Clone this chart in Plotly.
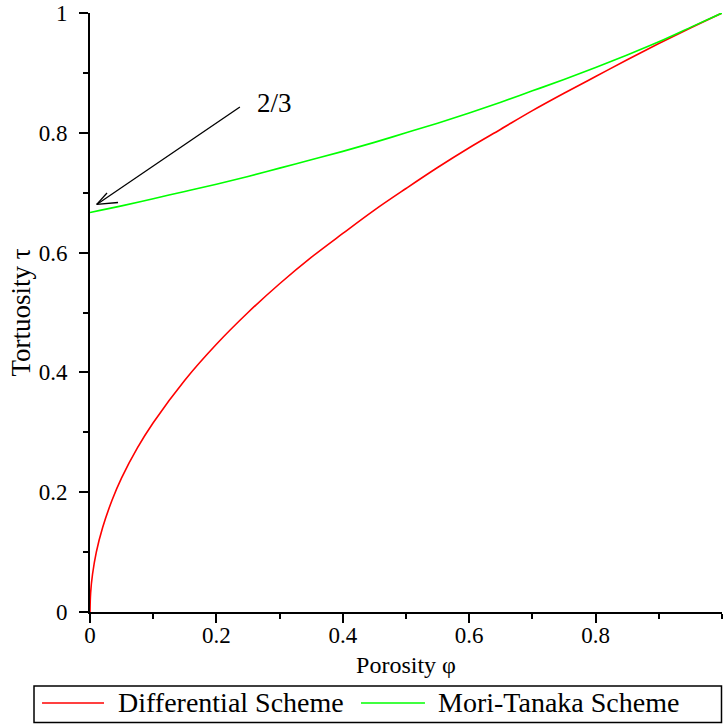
import plotly.graph_objects as go

# Porosity samples and tortuosity values
phi_diff = [0, 0.001, 0.004, 0.01, 0.02, 0.035, 0.05, 0.075, 0.1, 0.15, 0.2, 0.25, 0.3,
            0.35, 0.4, 0.45, 0.5, 0.55, 0.6, 0.65, 0.7, 0.75, 0.8, 0.85, 0.9, 0.95, 1.0]
tau_diff = [0, 0.032, 0.063, 0.1, 0.141, 0.187, 0.224, 0.274, 0.316, 0.387, 0.447, 0.5, 0.548,
            0.592, 0.632, 0.671, 0.707, 0.742, 0.775, 0.806, 0.837, 0.866, 0.894, 0.922, 0.949, 0.975, 1.0]

phi_mt = [0, 0.05, 0.1, 0.15, 0.2, 0.25, 0.3, 0.35, 0.4, 0.45, 0.5, 0.55, 0.6, 0.65,
          0.7, 0.75, 0.8, 0.85, 0.9, 0.95, 1.0]
tau_mt = [0.667, 0.678, 0.690, 0.702, 0.714, 0.727, 0.741, 0.755, 0.769, 0.784, 0.8, 0.816,
          0.833, 0.851, 0.870, 0.889, 0.909, 0.930, 0.952, 0.976, 1.0]

series_names = ["Differential Scheme", "Mori-Tanaka Scheme"]
series_colors = ["#ff0000", "#00ff00"]
x_ticks = [0, 0.2, 0.4, 0.6, 0.8]
x_tick_labels = ["0", "0.2", "0.4", "0.6", "0.8"]
y_ticks = [0, 0.2, 0.4, 0.6, 0.8, 1]
y_tick_labels = ["0", "0.2", "0.4", "0.6", "0.8", "1"]

annot_text = "2/3"
arrow_tail = (0.2372, 0.8431)
arrow_tip = (0.0106, 0.6804)
barb_up = (0.0269, 0.6995)
barb_low = (0.0443, 0.6836)
text_pos = (0.261, 0.849)

SERIF = "Liberation Serif"

fig = go.Figure()
fig.add_trace(go.Scatter(x=phi_diff, y=tau_diff, mode="lines", name=series_names[0],
                         line=dict(color=series_colors[0], width=1.6, shape="spline")))
fig.add_trace(go.Scatter(x=phi_mt, y=tau_mt, mode="lines", name=series_names[1],
                         line=dict(color=series_colors[1], width=1.6, shape="spline")))

axis_common = dict(
    showline=True, linecolor="black", linewidth=2, showgrid=False, zeroline=False,
    ticks="outside", ticklen=9, tickwidth=1.5, tickcolor="black",
    tickfont=dict(family=SERIF, size=23, color="black"),
    minor=dict(ticks="outside", ticklen=5, tickwidth=1.5, tickcolor="black", dtick=0.1),
)

fig.update_xaxes(range=[0, 1], tickmode="array", tickvals=x_ticks, ticktext=x_tick_labels,
                 ticklabelstandoff=-8,
                 title=dict(text="Porosity φ", font=dict(family=SERIF, size=24, color="black"),
                            standoff=10),
                 **axis_common)
fig.update_yaxes(range=[0, 1], tickmode="array", tickvals=y_ticks, ticktext=y_tick_labels,
                 ticklabelstandoff=7,
                 title=dict(text="Tortuosity τ", font=dict(family=SERIF, size=27, color="black"),
                            standoff=0),
                 **axis_common)

# arrow shaft
fig.add_shape(type="line", xref="x", yref="y", x0=arrow_tail[0], y0=arrow_tail[1],
              x1=arrow_tip[0], y1=arrow_tip[1], line=dict(color="black", width=1.3))
# open arrow head barbs
fig.add_shape(type="line", xref="x", yref="y", x0=arrow_tip[0], y0=arrow_tip[1],
              x1=barb_up[0], y1=barb_up[1], line=dict(color="black", width=1.3))
fig.add_shape(type="line", xref="x", yref="y", x0=arrow_tip[0], y0=arrow_tip[1],
              x1=barb_low[0], y1=barb_low[1], line=dict(color="black", width=1.3))
fig.add_annotation(x=text_pos[0], y=text_pos[1], xref="x", yref="y", text=annot_text,
                   showarrow=False, xanchor="left", yanchor="middle",
                   font=dict(family=SERIF, size=27, color="black"))

# legend box drawn below the plot (paper coordinates)
leg_box = dict(x0=-0.0886, x1=0.9992, y0=-0.1235, y1=-0.1845)
leg_y = -0.1519
leg_line_x = [(-0.0759, 0.0222), (0.4288, 0.530)]
leg_text_x = [0.0411, 0.5475]
fig.add_shape(type="rect", xref="paper", yref="paper", **leg_box,
              line=dict(color="black", width=1.5), fillcolor="white", layer="below")
for name, color, (lx0, lx1), tx in zip(series_names, series_colors, leg_line_x, leg_text_x):
    fig.add_shape(type="line", xref="paper", yref="paper", x0=lx0, x1=lx1, y0=leg_y, y1=leg_y,
                  line=dict(color=color, width=1.6))
    fig.add_annotation(x=tx, y=leg_y, xref="paper", yref="paper", text=name, showarrow=False,
                       xanchor="left", yanchor="middle",
                       font=dict(family=SERIF, size=28, color="black"))

fig.update_layout(
    width=723, height=725,
    margin=dict(l=90, r=1, t=13, b=113),
    plot_bgcolor="white", paper_bgcolor="white",
    showlegend=False,
)

fig.write_html("out.html", config={"displayModeBar": False},
               post_script="document.body.style.margin='0';"
                           "document.documentElement.style.overflow='hidden';")
